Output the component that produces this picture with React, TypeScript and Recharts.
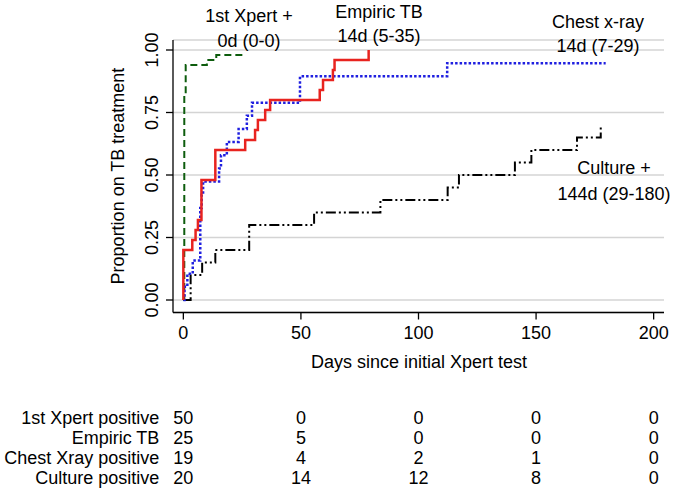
import { LineChart, Line, XAxis, YAxis, CartesianGrid } from 'recharts'

const FONT = '"Liberation Sans", Arial, sans-serif'

const dayTicks = [0, 50, 100, 150, 200]
const propTicks = [0, 0.25, 0.5, 0.75, 1]

// Kaplan-Meier style failure curves (days, proportion)
const xpertDays = [0, 0.4, 1, 10, 14, 25.5]
const xpertProp = [0, 0.82, 0.94, 0.96, 0.98, 0.98]

const empiricDays = [0, 0, 3.8, 5.2, 6.2, 7.7, 13.6, 26.3, 30.5, 31.7, 34.8, 36.9, 58, 59.4, 63.6, 64.3, 78.8]
const empiricProp = [0, 0.2, 0.24, 0.28, 0.32, 0.48, 0.6, 0.64, 0.68, 0.72, 0.76, 0.8, 0.84, 0.88, 0.92, 0.96, 1]

const chestDays = [0, 0.5, 1.7, 4, 7.2, 7.8, 8.4, 15.2, 16, 18.5, 23.5, 27, 29.2, 49.6, 112.2, 179.6]
const chestProp = [0, 0.053, 0.105, 0.158, 0.368, 0.421, 0.474, 0.526, 0.579, 0.632, 0.684, 0.737, 0.789, 0.895, 0.947, 0.947]

const cultureDays = [0, 3.1, 8, 13.6, 28, 55.6, 83.8, 112.4, 117.2, 141, 148, 167.4, 177.5]
const cultureProp = [0, 0.1, 0.15, 0.2, 0.3, 0.35, 0.4, 0.45, 0.5, 0.55, 0.6, 0.65, 0.7]

// numbers at risk under each x tick
const riskLabels = ['1st Xpert positive', 'Empiric TB', 'Chest Xray positive', 'Culture positive']
const xpertRisk = [50, 0, 0, 0, 0]
const empiricRisk = [25, 5, 0, 0, 0]
const chestRisk = [19, 4, 2, 1, 0]
const cultureRisk = [20, 14, 12, 8, 0]
const riskRows = [xpertRisk, empiricRisk, chestRisk, cultureRisk]

const toPoints = (days: number[], prop: number[]) => days.map((t, i) => ({ t, p: prop[i] }))

const YTick = ({ x, y, payload }: any) => (
  <text
    x={x - 7.8}
    y={y}
    transform={`rotate(-90, ${x - 7.8}, ${y})`}
    textAnchor="middle"
    fontSize={18}
    fontFamily={FONT}
    fill="#000"
  >
    {Number(payload.value).toFixed(2)}
  </text>
)

const XTick = ({ x, y, payload }: any) => {
  const i = dayTicks.indexOf(payload.value)
  return (
    <g fontSize={18} fontFamily={FONT} fill="#000">
      <text x={x} y={y + 19} textAnchor="middle">{payload.value}</text>
      {riskRows.map((row, r) => (
        <text key={r} x={x} y={y + 104.5 + r * 20} textAnchor="middle">{row[i]}</text>
      ))}
      {i === 0 && riskLabels.map((lab, r) => (
        <text key={'l' + r} x={x - 24} y={y + 104.5 + r * 20} textAnchor="end">{lab}</text>
      ))}
    </g>
  )
}

const notes = [
  { lines: ['1st Xpert +', '0d (0-0)'], x: 249, y: [22, 46.7] },
  { lines: ['Empiric TB', '14d (5-35)'], x: 379, y: [17.5, 42] },
  { lines: ['Chest x-ray', '14d (7-29)'], x: 598, y: [27.5, 51.5] },
  { lines: ['Culture +', '144d (29-180)'], x: 614, y: [173.5, 200] },
]

export default function App() {
  const axisStyle = { stroke: '#000', strokeWidth: 1.3 }
  return (
    <div style={{ position: 'absolute', left: 0, top: 0, width: 673, height: 493, background: '#fff' }}>
      <LineChart width={673} height={493} margin={{ top: 40, right: 9, left: 0, bottom: 150.5 }}>
        <CartesianGrid vertical={false} stroke="#d4d4d4" strokeWidth={1.6} />
        <XAxis
          dataKey="t"
          type="number"
          domain={[-4.4, 204.4]}
          ticks={dayTicks}
          interval={0}
          allowDataOverflow
          height={30}
          tickSize={7}
          tickMargin={0}
          axisLine={axisStyle}
          tickLine={axisStyle}
          tick={<XTick />}
        />
        <YAxis
          type="number"
          domain={[-0.05, 1.04]}
          ticks={propTicks}
          interval={0}
          allowDataOverflow
          width={173}
          tickSize={7}
          tickMargin={0}
          axisLine={axisStyle}
          tickLine={axisStyle}
          tick={<YTick />}
        />
        <Line data={toPoints(xpertDays, xpertProp)} dataKey="p" type="stepAfter" stroke="#0d5c0d" strokeWidth={2} strokeDasharray="7 4" dot={false} activeDot={false} isAnimationActive={false} />
        <Line data={toPoints(cultureDays, cultureProp)} dataKey="p" type="stepAfter" stroke="#000" strokeWidth={2} strokeDasharray="10 3 2 3 2 3" dot={false} activeDot={false} isAnimationActive={false} />
        <Line data={toPoints(chestDays, chestProp)} dataKey="p" type="stepAfter" stroke="#1f1fe0" strokeWidth={2.5} strokeDasharray="2.5 2" dot={false} activeDot={false} isAnimationActive={false} />
        <Line data={toPoints(empiricDays, empiricProp)} dataKey="p" type="stepAfter" stroke="#e8231f" strokeWidth={2.5} dot={false} activeDot={false} isAnimationActive={false} />
      </LineChart>
      <svg width={673} height={493} style={{ position: 'absolute', left: 0, top: 0, pointerEvents: 'none' }}>
        <g fontSize={18} fontFamily={FONT} fill="#000" textAnchor="middle">
          <text x={419} y={368}>Days since initial Xpert test</text>
          <text x={124} y={176} transform="rotate(-90, 124, 176)">Proportion on TB treatment</text>
          {notes.map((n) =>
            n.lines.map((l, k) => (
              <text key={l} x={n.x} y={n.y[k]}>{l}</text>
            ))
          )}
        </g>
      </svg>
    </div>
  )
}
